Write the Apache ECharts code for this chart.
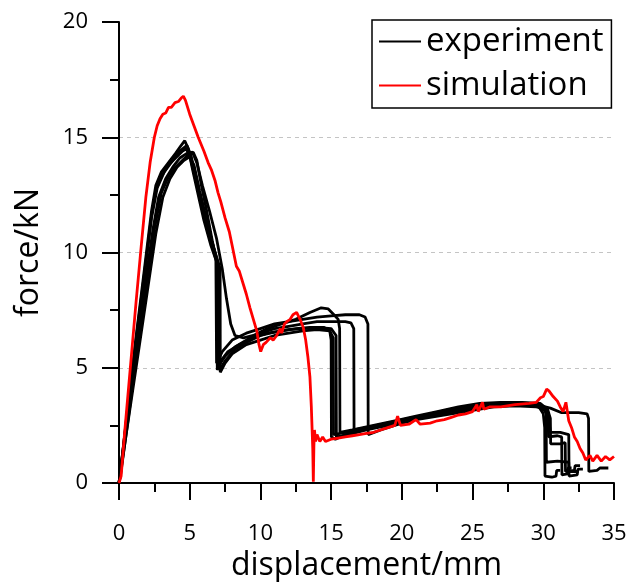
<!DOCTYPE html>
<html>
<head>
<meta charset="utf-8">
<script src="https://cdn.jsdelivr.net/npm/echarts@6/dist/echarts.min.js"></script>
<style>
  html, body { margin: 0; padding: 0; background: #fff; }
  #main { width: 628px; height: 582px; }
</style>
</head>
<body>
<div id="main"></div>
<script>
// tick values of the axes
var xTicks = [0, 5, 10, 15, 20, 25, 30, 35];
var yTicks = [0, 5, 10, 15, 20];

// experiment curves, [displacement mm, force kN]
var exp1 = [[0,0],[0.1,0.4],[0.6,3.2],[1.2,6.3],[1.8,9.3],[2.3,11.8],[2.6,12.9],[3.0,13.5],[3.5,13.9],[4.0,14.3],[4.4,14.65],[4.65,14.85],[4.9,14.5],[5.2,13.6],[5.6,12.5],[6.0,11.4],[6.5,10.3],[6.9,9.6],[6.95,4.9],[7.2,5.3],[7.7,5.7],[8.5,6.0],[9.5,6.3],[10.5,6.5],[11.5,6.6],[12.5,6.7],[13.5,6.75],[14.5,6.75],[14.9,6.6],[15.0,6.2],[15.02,2.0],[15.3,1.9],[16,2.1],[17,2.3],[18,2.4],[19,2.6],[20,2.7],[21,2.8],[22,2.9],[23,3.0],[24,3.1],[25,3.2],[26,3.3],[27,3.35],[28,3.4],[29,3.4],[29.7,3.3],[30.0,3.0],[30.1,2.4],[30.12,0.3],[30.6,0.25],[30.9,0.3],[30.95,0.55],[31.2,0.55]];
var exp2 = [[0,0],[0.6,3.0],[1.2,6.0],[1.8,9.0],[2.3,11.5],[2.7,12.8],[3.2,13.5],[3.8,14.0],[4.3,14.4],[4.8,14.65],[5.1,14.2],[5.5,13.0],[6.0,11.7],[6.5,10.6],[7.0,9.6],[7.15,9.3],[7.16,4.8],[7.5,5.2],[8.0,5.6],[9.0,6.0],[10,6.2],[11,6.4],[12,6.5],[13,6.6],[14,6.65],[14.9,6.6],[15.15,6.3],[15.17,2.1],[16,2.2],[17.5,2.4],[19,2.6],[20.5,2.8],[22,2.9],[23.5,3.1],[25,3.25],[26.5,3.35],[28,3.45],[29.5,3.35],[30.2,3.1],[30.35,2.6],[30.37,2.0],[31.0,2.05],[31.3,2.0],[31.32,0.35],[31.7,0.4],[31.75,0.65],[32.0,0.65]];
var exp3 = [[0,0],[0.6,2.8],[1.2,5.6],[1.8,8.4],[2.4,11.0],[2.8,12.4],[3.3,13.2],[3.8,13.7],[4.3,14.1],[4.8,14.3],[5.2,14.35],[5.5,13.9],[5.9,12.9],[6.4,11.8],[6.9,10.6],[7.3,9.3],[7.6,8.0],[7.9,6.9],[8.2,6.4],[8.8,6.3],[9.5,6.4],[10.5,6.7],[11.5,6.9],[12.5,7.1],[13.5,7.4],[14.3,7.6],[14.8,7.55],[15.2,7.3],[15.5,7.1],[15.6,6.7],[15.62,2.2],[16.5,2.3],[18,2.5],[19.5,2.7],[21,2.9],[22.5,3.1],[24,3.3],[25.5,3.45],[27,3.5],[28.5,3.5],[29.8,3.45],[30.3,3.2],[30.5,2.8],[30.52,1.7],[31.2,1.7],[31.55,1.75],[31.57,0.5],[32.2,0.55],[32.25,0.75],[32.6,0.75]];
var exp4 = [[0,0],[0.1,0.3],[0.7,3.0],[1.3,5.8],[1.9,8.5],[2.5,11.0],[3.0,12.6],[3.5,13.3],[4.0,13.7],[4.5,14.0],[5.0,14.3],[5.25,14.35],[5.5,14.0],[5.8,13.0],[6.2,11.8],[6.6,10.5],[6.95,9.5],[7.05,9.2],[7.06,5.1],[7.5,5.5],[8.2,5.9],[9.0,6.2],[10,6.5],[11,6.7],[12,6.8],[13,6.9],[14,7.0],[15,7.0],[16,7.0],[16.4,6.95],[16.6,6.7],[16.62,2.3],[17.5,2.4],[19,2.6],[20.5,2.8],[22,3.0],[23.5,3.2],[25,3.35],[26.5,3.45],[28,3.5],[29.5,3.4],[30.5,3.25],[31.3,3.05],[32.5,3.05],[33.1,3.0],[33.2,2.8],[33.22,0.5],[33.8,0.55],[34.0,0.65],[34.6,0.65]];
var exp5 = [[0,0],[0.6,3.1],[1.2,6.2],[1.8,9.1],[2.3,11.6],[2.6,12.7],[3.0,13.3],[3.5,13.8],[4.0,14.1],[4.5,14.4],[4.75,14.5],[5.0,14.2],[5.4,13.2],[5.9,11.9],[6.4,10.7],[6.85,9.7],[6.9,5.2],[7.3,5.7],[8.0,6.2],[9.0,6.5],[10,6.7],[11,6.9],[12,7.0],[13,7.1],[14,7.2],[15,7.25],[16,7.3],[17,7.3],[17.4,7.2],[17.6,6.9],[17.62,2.1],[18.5,2.3],[20,2.6],[21.5,2.85],[23,3.1],[24.5,3.25],[26,3.4],[27.5,3.5],[29,3.45],[30.0,3.3],[30.2,3.0],[30.22,0.9],[31.0,0.95],[31.8,0.9],[31.82,0.3],[32.4,0.35],[32.45,0.6],[32.8,0.6]];
var exp6 = [[0,0],[0.7,2.9],[1.4,5.8],[2.0,8.3],[2.6,10.8],[3.1,12.4],[3.6,13.2],[4.1,13.7],[4.6,14.0],[5.0,14.15],[5.3,13.8],[5.7,12.7],[6.2,11.4],[6.7,10.2],[7.1,9.3],[7.12,4.9],[7.5,5.3],[8.2,5.8],[9,6.1],[10,6.4],[11,6.55],[12,6.65],[13,6.7],[14,6.75],[15,6.7],[15.35,6.4],[15.37,2.0],[16.2,2.1],[17.5,2.3],[19,2.5],[20.5,2.7],[22,2.85],[23.5,3.0],[25,3.15],[26.5,3.3],[28,3.35],[29.5,3.3],[30.3,3.2],[30.5,2.2],[31.2,2.2],[31.8,2.1],[31.82,0.5],[32.5,0.5]];

// simulation curve
var simulation = [[0,0],[0.15,0.3],[0.4,2.2],[0.8,5.0],[1.2,7.8],[1.56,10.2],[1.9,12.4],[2.2,13.9],[2.5,15.0],[2.7,15.5],[2.9,15.8],[3.1,16.0],[3.3,16.05],[3.5,16.3],[3.7,16.3],[3.96,16.5],[4.2,16.55],[4.4,16.7],[4.55,16.78],[4.7,16.6],[5.0,16.0],[5.3,15.5],[5.6,15.0],[6.0,14.4],[6.3,13.9],[6.55,13.56],[6.8,13.1],[7.0,12.6],[7.2,12.2],[7.5,11.5],[7.8,10.9],[8.0,10.3],[8.3,9.4],[8.5,9.2],[8.8,8.6],[9.0,8.2],[9.26,7.6],[9.5,7.1],[9.74,6.6],[9.9,6.0],[10.02,5.7],[10.2,6.0],[10.4,6.1],[10.7,6.3],[10.9,6.2],[11.15,6.4],[11.4,6.7],[11.5,6.5],[11.7,6.9],[11.86,7.0],[12.1,7.1],[12.3,7.3],[12.56,7.4],[12.8,7.1],[13.03,6.75],[13.2,6.2],[13.35,5.5],[13.5,4.6],[13.6,3.3],[13.7,1.5],[13.74,0.05],[13.78,1.6],[13.82,2.3],[13.9,1.8],[14.0,2.1],[14.2,1.8],[14.4,2.0],[14.6,1.8],[15,1.9],[15.5,1.95],[16,2.0],[16.5,2.05],[17,2.1],[17.5,2.15],[18,2.2],[18.5,2.3],[19,2.4],[19.5,2.5],[19.7,2.9],[19.9,2.5],[20.5,2.55],[21,2.75],[21.3,2.55],[22,2.6],[22.5,2.7],[23,2.75],[23.5,2.85],[24,2.95],[24.5,3.0],[25,3.1],[25.3,3.4],[25.4,3.1],[25.7,3.5],[25.8,3.2],[26.2,3.3],[27,3.3],[28,3.4],[29,3.45],[29.5,3.5],[29.8,3.7],[30.0,3.75],[30.24,4.07],[30.4,4.0],[30.7,3.75],[31.0,3.55],[31.2,3.3],[31.4,3.1],[31.6,3.5],[31.8,2.7],[32.0,2.4],[32.2,2.0],[32.4,1.8],[32.6,1.5],[32.8,1.3],[33.0,1.0],[33.3,1.2],[33.5,0.95],[33.8,1.2],[34.1,0.95],[34.4,1.15],[34.7,1.0],[35,1.15]];

var experiments = [exp1, exp2, exp3, exp4, exp5, exp6];

var font = 'Open Sans';
var myChart = echarts.init(document.getElementById('main'));

var series = experiments.map(function (d) {
    return {
        name: 'experiment',
        type: 'line',
        data: d,
        symbol: 'none',
        lineStyle: { color: '#000', width: 2.8 },
        itemStyle: { color: '#000' },
        animation: false
    };
});
series.push({
    name: 'simulation',
    type: 'line',
    data: simulation,
    symbol: 'none',
    lineStyle: { color: '#ff0000', width: 2.8 },
    itemStyle: { color: '#ff0000' },
    animation: false
});

myChart.setOption({
    animation: false,
    grid: { left: 119, right: 14, top: 22, bottom: 99, outerBoundsMode: 'none', containLabel: false },
    legend: {
        orient: 'vertical',
        left: 372,
        top: 20,
        itemWidth: 42,
        itemHeight: 2,
        itemGap: 11,
        padding: [5, 8, 6, 7],
        borderColor: '#000',
        borderWidth: 1.5,
        icon: 'rect',
        textStyle: { fontFamily: font, fontSize: 33, color: '#000' },
        data: ['experiment', 'simulation']
    },
    xAxis: {
        type: 'value',
        min: xTicks[0],
        max: xTicks[xTicks.length - 1],
        interval: 5,
        name: 'displacement/mm',
        nameLocation: 'middle',
        nameGap: 64,
        nameTextStyle: { fontFamily: font, fontSize: 32, color: '#000' },
        axisLine: { onZero: false, lineStyle: { color: '#000', width: 2 } },
        axisTick: { length: 17, lineStyle: { color: '#000', width: 2 } },
        minorTick: { show: true, splitNumber: 2, length: 9, lineStyle: { color: '#000', width: 2 } },
        axisLabel: { fontFamily: font, fontSize: 22, color: '#000', margin: 40 },
        splitLine: { show: false }
    },
    yAxis: {
        type: 'value',
        min: yTicks[0],
        max: yTicks[yTicks.length - 1],
        interval: 5,
        name: 'force/kN',
        nameLocation: 'middle',
        nameGap: 74,
        nameTextStyle: { fontFamily: font, fontSize: 32, color: '#000' },
        axisLine: { onZero: false, lineStyle: { color: '#000', width: 2 } },
        axisTick: { length: 17, lineStyle: { color: '#000', width: 2 } },
        minorTick: { show: true, splitNumber: 2, length: 9, lineStyle: { color: '#000', width: 2 } },
        axisLabel: { fontFamily: font, fontSize: 22, color: '#000', margin: 31 },
        splitLine: {
            show: true,
            showMinLine: false,
            showMaxLine: false,
            lineStyle: { color: '#c4c4c4', width: 1, type: [4, 4] }
        }
    },
    series: series
});
</script>
</body>
</html>
